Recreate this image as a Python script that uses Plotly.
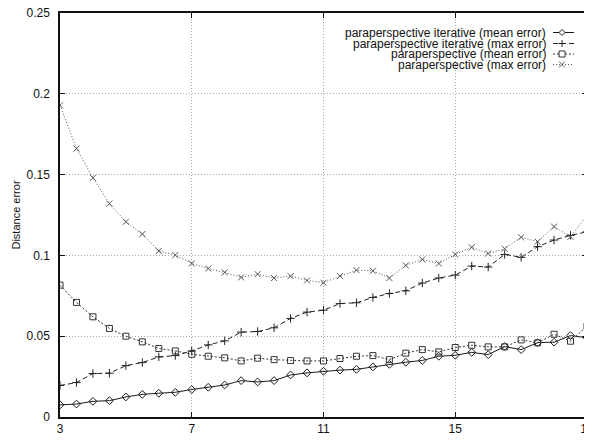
import plotly.graph_objects as go

# ---- data ----
x_vals = [3, 3.5, 4, 4.5, 5, 5.5, 6, 6.5, 7, 7.5, 8, 8.5, 9, 9.5, 10, 10.5, 11,
          11.5, 12, 12.5, 13, 13.5, 14, 14.5, 15, 15.5, 16, 16.5, 17, 17.5, 18, 18.5, 19]

iter_mean = [0.0075, 0.0080, 0.0097, 0.0101, 0.0124, 0.0140, 0.0147, 0.0153, 0.0170,
             0.0184, 0.0198, 0.0225, 0.0217, 0.0225, 0.0260, 0.0273, 0.0283, 0.0290,
             0.0295, 0.0310, 0.0326, 0.0339, 0.0350, 0.0376, 0.0382, 0.0400, 0.0386,
             0.0436, 0.0417, 0.0460, 0.0463, 0.0504, 0.0490]

iter_max = [0.0195, 0.0213, 0.0269, 0.0271, 0.0318, 0.0337, 0.0372, 0.0380, 0.0409,
            0.0446, 0.0471, 0.0525, 0.0529, 0.0552, 0.0610, 0.0649, 0.0661, 0.0702,
            0.0707, 0.0740, 0.0764, 0.0781, 0.0829, 0.0860, 0.0878, 0.0934, 0.0928,
            0.1006, 0.0988, 0.1054, 0.1095, 0.1124, 0.1146]

para_mean = [0.0816, 0.0709, 0.0620, 0.0548, 0.0500, 0.0465, 0.0424, 0.0409, 0.0388,
             0.0376, 0.0366, 0.0347, 0.0364, 0.0355, 0.0349, 0.0347, 0.0347, 0.0362,
             0.0376, 0.0380, 0.0355, 0.0395, 0.0417, 0.0403, 0.0430, 0.0444, 0.0434,
             0.0434, 0.0477, 0.0459, 0.0512, 0.0469, 0.0562]

para_max = [0.1929, 0.1661, 0.1480, 0.1320, 0.1208, 0.1132, 0.1027, 0.1002, 0.0950,
            0.0919, 0.0895, 0.0864, 0.0884, 0.0860, 0.0872, 0.0845, 0.0831, 0.0872,
            0.0909, 0.0905, 0.0860, 0.0938, 0.0975, 0.0950, 0.1006, 0.1050, 0.1012,
            0.1041, 0.1112, 0.1085, 0.1178, 0.1115, 0.1250]

series_names = ["paraperspective iterative (mean error)",
                "paraperspective iterative (max error)",
                "paraperspective (mean error)",
                "paraperspective (max error)"]

x_ticks = [3, 7, 11, 15, 19]
y_ticks = [0, 0.05, 0.1, 0.15, 0.2, 0.25]
y_tick_text = ["0", "0.05", "0.1", "0.15", "0.2", "0.25"]

# ---- styles ----
styles = [
    dict(color="#1a1a1a", dash="solid", symbol="diamond-open", size=6),
    dict(color="#222222", dash="5px,3px", symbol="cross-thin-open", size=6),
    dict(color="#333333", dash="2px,2px", symbol="square-open", size=6),
    dict(color="#555555", dash="1px,2px", symbol="x-thin-open", size=6),
]
glyph_paths = {
    "diamond-open": "M 0 -3 L 3 0 L 0 3 L -3 0 Z",
    "cross-thin-open": "M -3.5 0 L 3.5 0 M 0 -3.5 L 0 3.5",
    "square-open": "M -3 -3 L 3 -3 L 3 3 L -3 3 Z",
    "x-thin-open": "M -3 -3 L 3 3 M -3 3 L 3 -3",
}

font_family = "Liberation Sans, Arial, Helvetica, sans-serif"

fig = go.Figure()
for name, ys, st in zip(series_names, [iter_mean, iter_max, para_mean, para_max], styles):
    fig.add_trace(go.Scatter(
        x=x_vals, y=ys, mode="lines+markers", name=name, showlegend=False,
        line=dict(color=st["color"], width=1, dash=st["dash"]),
        marker=dict(symbol=st["symbol"], size=st["size"], color=st["color"],
                    line=dict(width=1, color=st["color"])),
    ))

# ---- custom gnuplot-like legend (text right-aligned, sample at right) ----
legend_y = [0.9517, 0.9245, 0.8985, 0.8725]
text_right = 0.926
sample_x0, sample_x1, sample_mid = 0.9355, 0.9753, 0.9526
shapes = []
annotations = []
for name, st, ly in zip(series_names, styles, legend_y):
    annotations.append(dict(
        x=text_right, y=ly, xref="paper", yref="paper", text=name,
        showarrow=False, xanchor="right", yanchor="middle",
        font=dict(family=font_family, size=12, color="#111")))
    shapes.append(dict(type="line", xref="paper", yref="paper",
                       x0=sample_x0, x1=sample_x1, y0=ly, y1=ly,
                       line=dict(color=st["color"], width=1, dash=st["dash"])))
    shapes.append(dict(type="path", xref="paper", yref="paper",
                       xsizemode="pixel", ysizemode="pixel",
                       xanchor=sample_mid, yanchor=ly,
                       path=glyph_paths[st["symbol"]],
                       fillcolor="white",
                       line=dict(color=st["color"], width=1)))

# page has an 8px body margin, so the figure is 8px smaller on each axis
fig.update_layout(
    width=584, height=432,
    margin=dict(l=52, r=5, t=5, b=23),
    paper_bgcolor="white", plot_bgcolor="white",
    font=dict(family=font_family, size=12, color="#111"),
    shapes=shapes, annotations=annotations,
)
fig.update_xaxes(
    range=[3, 19], tickvals=x_ticks, ticktext=[str(v) for v in x_ticks],
    showgrid=True, gridcolor="#a8a8a8", griddash="1px,2px", gridwidth=1,
    showline=True, linecolor="#111", linewidth=1.5, mirror="ticks",
    ticks="inside", ticklen=5, tickcolor="#111", zeroline=False,
    tickfont=dict(size=12), ticklabelstandoff=0, automargin=False,
    ticklabeloverflow="allow",
)
fig.update_yaxes(
    range=[0, 0.25], tickvals=y_ticks, ticktext=y_tick_text,
    showgrid=True, gridcolor="#a8a8a8", griddash="1px,2px", gridwidth=1,
    showline=True, linecolor="#111", linewidth=1.5, mirror="ticks",
    ticks="inside", ticklen=5, tickcolor="#111", zeroline=False,
    tickfont=dict(size=12), ticklabelstandoff=6, automargin=False,
    ticklabeloverflow="allow",
    title=dict(text="Distance error", font=dict(size=11), standoff=4),
)

fig.write_html("out.html")
